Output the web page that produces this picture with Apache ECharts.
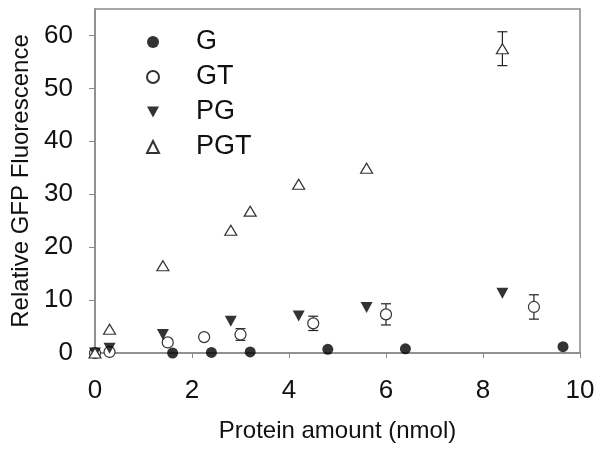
<!DOCTYPE html>
<html>
<head>
<meta charset="utf-8">
<script src="https://cdn.jsdelivr.net/npm/echarts@6/dist/echarts.min.js"></script>
<style>html,body{margin:0;padding:0;background:#fff}#c{width:602px;height:453px}</style>
</head>
<body>
<div id="c"></div>
<script>
// Data
const gX = [0, 1.6, 2.4, 3.2, 4.8, 6.4, 9.65];
const gY = [0, 0, 0.1, 0.2, 0.7, 0.8, 1.2];
const gtX = [0, 0.3, 1.5, 2.25, 3.0, 4.5, 6.0, 9.05];
const gtY = [0, 0.2, 2.0, 3.0, 3.5, 5.6, 7.3, 8.7];
const gtErr = [0, 0, 0, 0, 1.1, 1.35, 2.0, 2.3];
const pgX = [0, 0.3, 1.4, 2.8, 4.2, 5.6, 8.4];
const pgY = [0, 0.9, 3.5, 6.0, 7.0, 8.6, 11.3];
const pgtX = [0, 0.3, 1.4, 2.8, 3.2, 4.2, 5.6, 8.4];
const pgtY = [0, 4.5, 16.5, 23.2, 26.8, 31.9, 34.9, 57.5];
const pgtErr = [0, 0, 0, 0, 0, 0, 0, 3.2];
const seriesNames = ['G', 'GT', 'PG', 'PGT'];
const xTicks = [0, 2, 4, 6, 8, 10];
const yTicks = [0, 10, 20, 30, 40, 50, 60];

const FONT = 'Liberation Sans, Arial, sans-serif';
const pairs = (xs, ys) => xs.map((x, i) => [x, ys[i]]);
const errData = (xs, ys, es) => xs.map((x, i) => [x, ys[i] - es[i], ys[i] + es[i]]).filter((d, i) => es[i] > 0);
const downTri = 'path://M0,0 L10,0 L5,9 Z';

function errRender(params, api) {
  const x = api.value(0), lo = api.value(1), hi = api.value(2);
  const pLo = api.coord([x, lo]), pHi = api.coord([x, hi]);
  const w = 5;
  const st = { stroke: '#222', lineWidth: 1.2 };
  return {
    type: 'group',
    children: [
      { type: 'line', shape: { x1: pLo[0], y1: pLo[1], x2: pHi[0], y2: pHi[1] }, style: st },
      { type: 'line', shape: { x1: pLo[0] - w, y1: pLo[1], x2: pLo[0] + w, y2: pLo[1] }, style: st },
      { type: 'line', shape: { x1: pHi[0] - w, y1: pHi[1], x2: pHi[0] + w, y2: pHi[1] }, style: st }
    ]
  };
}

const chart = echarts.init(document.getElementById('c'), null, { renderer: 'canvas' });
chart.setOption({
  animation: false,
  backgroundColor: '#fff',
  grid: { left: 95, right: 22, top: 9, bottom: 100, show: true, borderColor: '#8a8a8a', borderWidth: 1.5, backgroundColor: 'transparent' },
  legend: {
    orient: 'vertical', left: 141, top: 23, itemWidth: 12, itemHeight: 12, itemGap: 7,
    data: seriesNames,
    textStyle: { fontFamily: FONT, fontSize: 27, color: '#111', padding: [0, 0, 0, 32], lineHeight: 28 }
  },
  xAxis: {
    type: 'value', min: 0, max: 10, interval: 2,
    name: 'Protein amount (nmol)', nameLocation: 'middle', nameGap: 66,
    nameTextStyle: { fontFamily: FONT, fontSize: 24, color: '#111' },
    axisLine: { show: true, lineStyle: { color: '#8a8a8a', width: 1.5 } },
    axisTick: { show: true, length: 5, lineStyle: { color: '#8a8a8a' }, customValues: xTicks },
    axisLabel: { fontFamily: FONT, fontSize: 26, color: '#111', margin: 25, customValues: xTicks },
    splitLine: { show: false }
  },
  yAxis: {
    type: 'value', min: 0, max: 65, interval: 10,
    name: 'Relative GFP Fluorescence', nameLocation: 'middle', nameGap: 60,
    nameTextStyle: { fontFamily: FONT, fontSize: 24, color: '#111' },
    axisLine: { show: true, lineStyle: { color: '#8a8a8a', width: 1.5 } },
    axisTick: { show: true, length: 6, lineStyle: { color: '#8a8a8a' }, customValues: yTicks },
    axisLabel: { fontFamily: FONT, fontSize: 26, color: '#111', margin: 22, customValues: yTicks },
    splitLine: { show: false }
  },
  series: [
    { name: 'G', type: 'scatter', symbol: 'circle', symbolSize: 11, data: pairs(gX, gY), itemStyle: { color: '#000' }, z: 3 },
    { name: 'GT', type: 'scatter', symbol: 'circle', symbolSize: 11, data: pairs(gtX, gtY), itemStyle: { color: '#fff', borderColor: '#333', borderWidth: 1.2, opacity: 1 }, z: 4 },
    { name: 'PG', type: 'scatter', symbol: downTri, symbolSize: [12, 11], data: pairs(pgX, pgY), itemStyle: { color: '#000' }, z: 5 },
    { name: 'PGT', type: 'scatter', symbol: 'triangle', symbolSize: [12, 10], data: pairs(pgtX, pgtY), itemStyle: { color: '#fff', borderColor: '#333', borderWidth: 1.2, opacity: 1 }, z: 6 },
    { type: 'custom', renderItem: errRender, data: errData(gtX, gtY, gtErr), z: 2, silent: true },
    { type: 'custom', renderItem: errRender, data: errData(pgtX, pgtY, pgtErr), z: 2, silent: true }
  ]
});
</script>
</body>
</html>
